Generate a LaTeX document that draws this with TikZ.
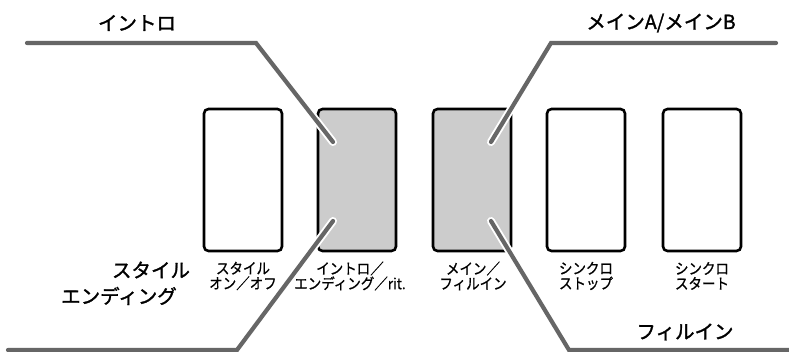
\documentclass[tikz,border=0pt]{standalone}
\usepackage{fontspec}
\usetikzlibrary{calc}
\setmainfont{Noto Sans CJK JP}
\newfontfamily\jp[FakeStretch=0.9,FakeBold=0.8]{Noto Sans CJK JP}
\newfontfamily\jpbig[FakeBold=1.5]{Noto Sans CJK JP}
\begin{document}
\begin{tikzpicture}[x=1pt,y=-1pt,
  btn/.style={draw=black,line width=2.6pt,rounded corners=4.5pt,minimum width=78pt,minimum height=142pt,inner sep=0pt},
  lit/.style={btn,fill=black!20},
  lbl/.style={font=\jp\fontsize{15}{15}\selectfont,align=center,inner sep=0pt},
  big/.style={font=\jpbig\fontsize{19.5}{20}\selectfont,inner sep=0pt},
  halo/.style={white,line width=8pt,line cap=round,line join=miter},
  lead/.style={black!60,line width=4.2pt,line cap=round,line join=miter}]
\useasboundingbox (0,0) rectangle (789,352);
\fill[white] (0,0) rectangle (789,352);
\node[btn] (b1) at (243,180) {};
\node[lit] (b2) at (357,180) {};
\node[lit] (b3) at (472,180) {};
\node[btn] (b4) at (586,180) {};
\node[btn] (b5) at (702,180) {};
\node[lbl] (c1) at (243,276) {スタイル\\オン／オフ};
\node[lbl] (c2) at (350,276) {イントロ／\\エンディング／rit.};
\node[lbl] (c3) at (473,276) {メイン／\\フィルイン};
\node[lbl] (c4) at (586,276) {シンクロ\\ストップ};
\node[lbl] (c5) at (702,276) {シンクロ\\スタート};
\node[big] (style) at (151,270) {スタイル};
\node[big] (intro) at (137,23) {イントロ};
\node[big] (main) at (661,23) {メインA/メインB};
\node[big] (ending) at (119,296) {エンディング};
\node[big] (fill) at (685,332) {フィルイン};
\coordinate (i0) at (27,43); \coordinate (i1) at (256,43);
\coordinate (ie) at ($(b2.center)+(-24,-38)$);
\coordinate (m0) at (776,43); \coordinate (m1) at (551,43);
\coordinate (me) at ($(b3.center)+(19,-38)$);
\coordinate (e0) at (8,350); \coordinate (e1) at (237,350);
\coordinate (ee) at ($(b2.center)+(-24,41)$);
\coordinate (f0) at (789,350); \coordinate (f1) at (569,350);
\coordinate (fe) at ($(b3.center)+(19,41)$);
\foreach \p in {{(i0)--(i1)--(ie)},{(m0)--(m1)--(me)},{(e0)--(e1)--(ee)},{(f0)--(f1)--(fe)}}{
  \draw[halo] \p; \draw[lead] \p;}
\end{tikzpicture}
\end{document}
